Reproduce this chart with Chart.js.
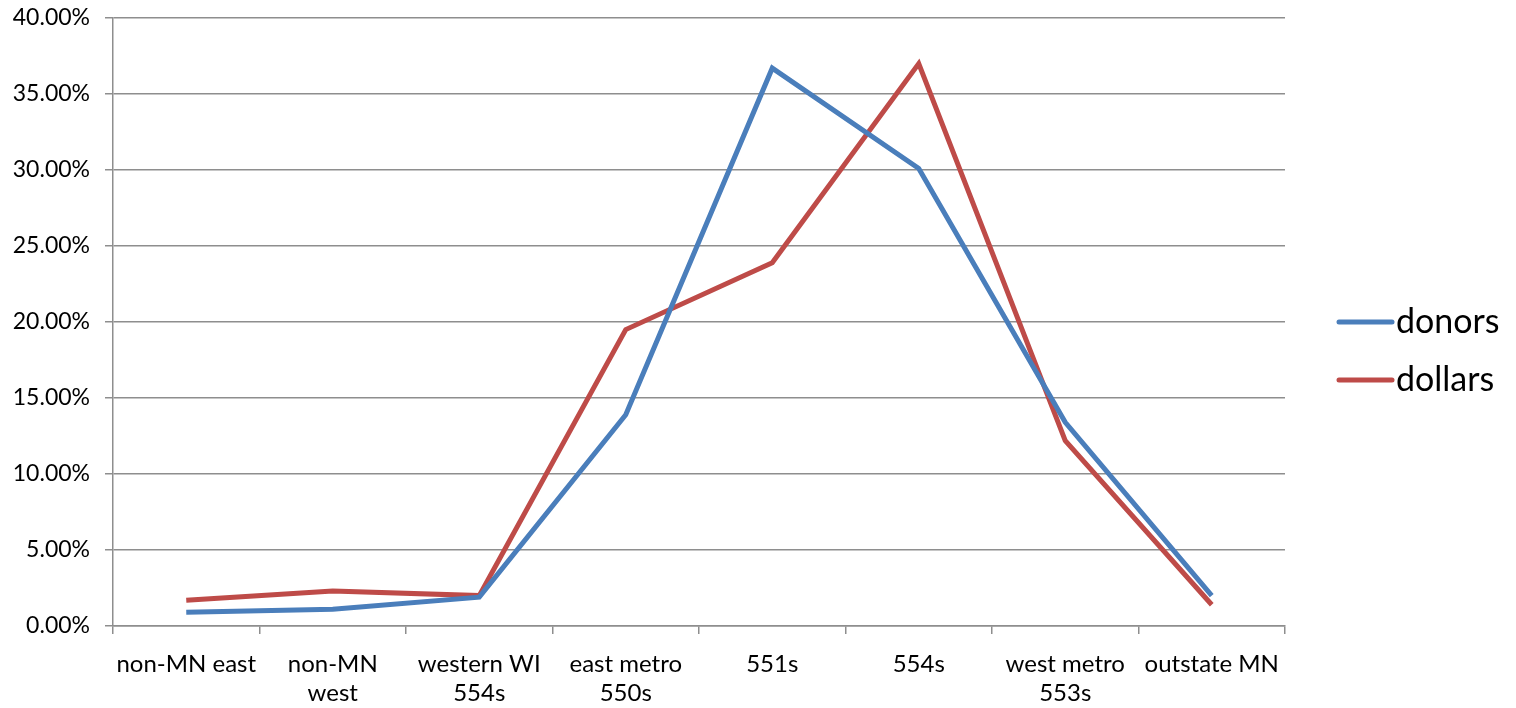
<!DOCTYPE html>
<html>
<head>
<meta charset="utf-8">
<script src="https://cdn.jsdelivr.net/npm/chart.js@4/dist/chart.umd.min.js"></script>
<style>
  html, body { margin: 0; padding: 0; background: #fff; }
  #wrap { width: 1516px; height: 708px; }
</style>
</head>
<body>
<div id="wrap"><canvas id="chart" width="1516" height="708"></canvas></div>
<script>
// ------------------------- DATA -------------------------
const categories = [
  'non-MN east', ['non-MN', 'west'], ['western WI', '554s'], ['east metro', '550s'],
  '551s', '554s', ['west metro', '553s'], 'outstate MN'
];
const donors  = [0.009, 0.011, 0.019, 0.139, 0.367, 0.301, 0.134, 0.020];
const dollars = [0.017, 0.023, 0.020, 0.195, 0.239, 0.370, 0.122, 0.014];

const FONT = 'Lato, "DejaVu Sans", sans-serif';
const GRID = '#8e8e8e';

// ------------------------- LEGEND (line swatches on the right) -------------------------
const sideLegend = {
  id: 'sideLegend',
  afterDraw(chart) {
    const ctx = chart.ctx;
    const x0 = 1339, x1 = 1392;
    const rows = [322, 380];
    ctx.save();
    chart.data.datasets.forEach((ds, i) => {
      const y = rows[i];
      ctx.strokeStyle = ds.borderColor;
      ctx.lineWidth = 5;
      ctx.lineCap = 'round';
      ctx.beginPath();
      ctx.moveTo(x0, y);
      ctx.lineTo(x1, y);
      ctx.stroke();
      ctx.fillStyle = '#000';
      ctx.font = '34px ' + FONT;
      ctx.textBaseline = 'middle';
      ctx.textAlign = 'left';
      ctx.fillText(ds.label, x1 + 4, y);
    });
    ctx.restore();
  }
};

new Chart(document.getElementById('chart').getContext('2d'), {
  type: 'line',
  data: {
    labels: categories,
    datasets: [
      { label: 'donors', data: donors, borderColor: '#4a7ebb', borderWidth: 5, pointRadius: 0, tension: 0, fill: false },
      { label: 'dollars', data: dollars, borderColor: '#be4b48', borderWidth: 5, pointRadius: 0, tension: 0, fill: false }
    ]
  },
  options: {
    responsive: false,
    animation: false,
    layout: { padding: { top: 18, right: 231, left: 0, bottom: 0 } },
    plugins: { legend: { display: false }, tooltip: { enabled: false } },
    scales: {
      x: {
        offset: true,
        grid: { offset: true, drawOnChartArea: false, drawTicks: true, tickLength: 8, color: GRID, lineWidth: 1.5 },
        border: { color: GRID, width: 1.5 },
        ticks: { color: '#000', font: { family: FONT, size: 24, lineHeight: 1.2 }, padding: 16, maxRotation: 0, autoSkip: false },
        afterFit: s => { s.height = 82; s.paddingLeft = 0; s.paddingRight = 0; }
      },
      y: {
        min: 0, max: 0.4,
        grid: { color: GRID, lineWidth: 1.5, tickLength: 8 },
        border: { color: GRID, width: 1.5 },
        ticks: {
          stepSize: 0.05, color: '#000', padding: 15,
          font: { family: FONT, size: 23 },
          callback: v => (v * 100).toFixed(2) + '%'
        },
        afterFit: s => { s.width = 113; s.paddingTop = 0; s.paddingBottom = 0; }
      }
    }
  },
  plugins: [sideLegend]
});
</script>
</body>
</html>
